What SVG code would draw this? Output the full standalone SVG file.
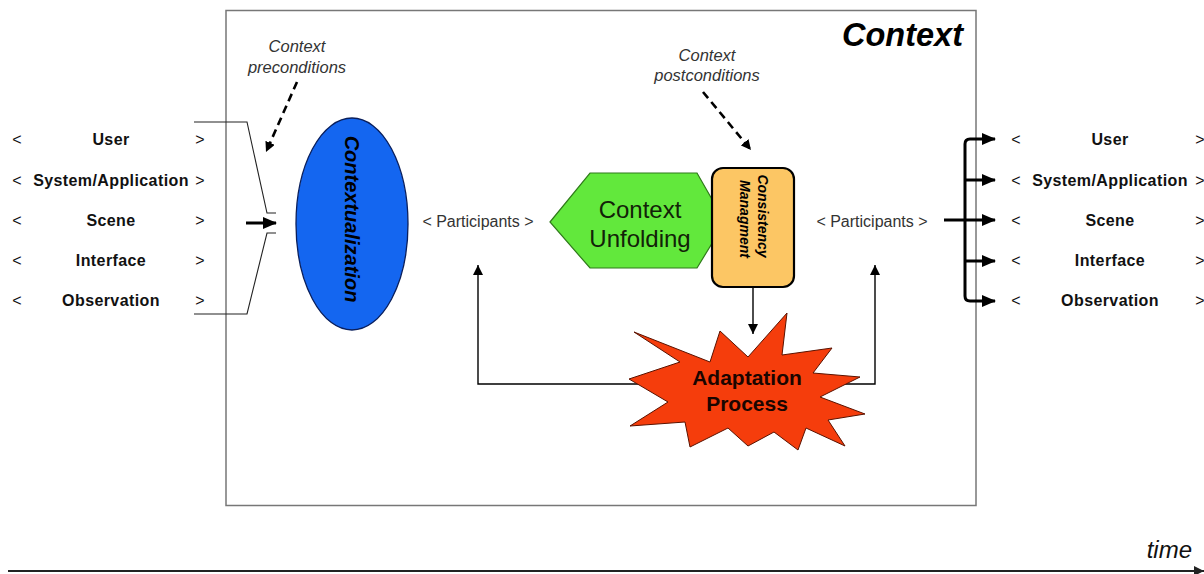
<svg xmlns="http://www.w3.org/2000/svg" width="1204" height="574" viewBox="0 0 1204 574">
  <defs>
    <marker id="headThick" markerUnits="userSpaceOnUse" markerWidth="14" markerHeight="12" refX="13" refY="6" orient="auto">
      <path d="M0,0 L14,6 L0,12 Z" fill="#000"/>
    </marker>
    <marker id="headThin" markerUnits="userSpaceOnUse" markerWidth="10" markerHeight="10" refX="10" refY="5" orient="auto">
      <path d="M0,0 L10,5 L0,10 Z" fill="#000"/>
    </marker>
    <marker id="headTime" markerUnits="userSpaceOnUse" markerWidth="10" markerHeight="10" refX="10" refY="5" orient="auto">
      <path d="M0,0 L10,5 L0,10 Z" fill="#222"/>
    </marker>
  </defs>
  <style>
    .lbl { font-family: "Liberation Sans", Arial, sans-serif; font-size: 16px; font-weight: bold; fill: #111; letter-spacing: 0.4px; }
    .br { font-family: "Liberation Sans", Arial, sans-serif; font-size: 16px; fill: #111; }
    .note { font-family: "Liberation Sans", Arial, sans-serif; font-size: 16.5px; font-style: italic; fill: #333; }
    .part { font-family: "Liberation Sans", Arial, sans-serif; font-size: 16px; fill: #333; }
    .thin { fill: none; stroke: #000; stroke-width: 1.4; }
    .thick { fill: none; stroke: #000; stroke-width: 3; }
    .dash { fill: none; stroke: #000; stroke-width: 2.6; stroke-dasharray: 8 5; }
    .bracket { fill: none; stroke: #222; stroke-width: 1.1; }
  </style>

  <rect width="1204" height="574" fill="#fff"/>

  <!-- context frame -->
  <g id="context-frame">
    <rect x="226" y="10.5" width="750" height="495" fill="none" stroke="#777" stroke-width="1.5"/>
    <text x="963" y="46" text-anchor="end" font-family="Liberation Sans, Arial, sans-serif" font-size="32.5" font-weight="bold" font-style="italic" fill="#000">Context</text>
  </g>

  <!-- incoming participant list -->
  <g id="inputs">
    <g class="br" text-anchor="middle">
      <text x="17" y="145">&lt;</text><text x="200" y="145">&gt;</text>
      <text x="17" y="186">&lt;</text><text x="200" y="186">&gt;</text>
      <text x="17" y="226">&lt;</text><text x="200" y="226">&gt;</text>
      <text x="17" y="266">&lt;</text><text x="200" y="266">&gt;</text>
      <text x="17" y="306">&lt;</text><text x="200" y="306">&gt;</text>
    </g>
    <g class="lbl" text-anchor="middle">
      <text x="111" y="145">User</text>
      <text x="111" y="186">System/Application</text>
      <text x="111" y="226">Scene</text>
      <text x="111" y="266">Interface</text>
      <text x="111" y="306">Observation</text>
    </g>
  </g>

  <!-- outgoing participant list -->
  <g id="outputs">
    <g class="br" text-anchor="middle">
      <text x="1016" y="145">&lt;</text><text x="1200" y="145">&gt;</text>
      <text x="1016" y="186">&lt;</text><text x="1200" y="186">&gt;</text>
      <text x="1016" y="226">&lt;</text><text x="1200" y="226">&gt;</text>
      <text x="1016" y="266">&lt;</text><text x="1200" y="266">&gt;</text>
      <text x="1016" y="306">&lt;</text><text x="1200" y="306">&gt;</text>
    </g>
    <g class="lbl" text-anchor="middle">
      <text x="1110" y="145">User</text>
      <text x="1110" y="186">System/Application</text>
      <text x="1110" y="226">Scene</text>
      <text x="1110" y="266">Interface</text>
      <text x="1110" y="306">Observation</text>
    </g>
  </g>

  <!-- annotations -->
  <g id="preconditions" class="note" text-anchor="middle">
    <text x="297" y="52">Context</text>
    <text x="297" y="73">preconditions</text>
  </g>
  <g id="postconditions" class="note" text-anchor="middle">
    <text x="707" y="61">Context</text>
    <text x="707" y="81">postconditions</text>
  </g>
  <g id="participants-in" class="part" text-anchor="middle">
    <text x="478" y="227">&lt; Participants &gt;</text>
  </g>
  <g id="participants-out" class="part" text-anchor="middle">
    <text x="872" y="227">&lt; Participants &gt;</text>
  </g>

  <!-- connectors -->
  <g id="connectors">
    <!-- input bracket -->
    <polyline class="bracket" points="194,122 247,122 267,213 276,213"/>
    <polyline class="bracket" points="194,314 247,314 267,233 276,233"/>
    <line class="thick" x1="246" y1="223" x2="276" y2="223" marker-end="url(#headThick)"/>
    <!-- pre/post condition hints -->
    <line class="dash" x1="297" y1="82" x2="266" y2="152" marker-end="url(#headThin)"/>
    <line class="dash" x1="703" y1="92" x2="751" y2="150" marker-end="url(#headThin)"/>
    <!-- consistency to adaptation -->
    <line class="thin" x1="753" y1="288" x2="753" y2="334" marker-end="url(#headThin)"/>
    <!-- feedback loops -->
    <polyline class="thin" points="700,384 478,384 478,265" marker-end="url(#headThin)"/>
    <polyline class="thin" points="800,384 875,384 875,265" marker-end="url(#headThin)"/>
    <!-- output fan-out -->
    <line class="thick" x1="944" y1="220" x2="995" y2="220" marker-end="url(#headThick)"/>
    <path class="thick" d="M965,220 L965,144 Q965,139 970,139 L995,139" marker-end="url(#headThick)"/>
    <path class="thick" d="M965,220 L965,296 Q965,301 970,301 L995,301" marker-end="url(#headThick)"/>
    <line class="thick" x1="965" y1="180" x2="995" y2="180" marker-end="url(#headThick)"/>
    <line class="thick" x1="965" y1="261" x2="995" y2="261" marker-end="url(#headThick)"/>
    <!-- time axis -->
    <line x1="8" y1="571" x2="1204" y2="571" stroke="#222" stroke-width="2.2" marker-end="url(#headTime)"/>
  </g>

  <!-- contextualization -->
  <g id="contextualization">
    <ellipse cx="352" cy="224" rx="56" ry="106" fill="#1466f0" stroke="#0a1f5c" stroke-width="1.3"/>
    <text transform="translate(345,219) rotate(90)" text-anchor="middle" font-family="Liberation Sans, Arial, sans-serif" font-size="20" font-weight="bold" font-style="italic" fill="#000">Contextualization</text>
  </g>

  <!-- context unfolding -->
  <g id="context-unfolding">
    <polygon points="550,222 590,173 697,173 725,222 697,268 590,268" fill="#62e83c" stroke="#2f7a1a" stroke-width="1.2"/>
    <text x="640" y="218" text-anchor="middle" font-family="Liberation Sans, Arial, sans-serif" font-size="24" fill="#122208">Context</text>
    <text x="640" y="247" text-anchor="middle" font-family="Liberation Sans, Arial, sans-serif" font-size="24" fill="#122208">Unfolding</text>
  </g>

  <!-- consistency management -->
  <g id="consistency">
    <rect x="712" y="168" width="82" height="119" rx="11" fill="#fcc664" stroke="#000" stroke-width="2.2"/>
    <g font-family="Liberation Sans, Arial, sans-serif" font-size="14" font-weight="bold" font-style="italic" fill="#000" text-anchor="middle">
      <text transform="translate(758,216) rotate(90)">Consistency</text>
      <text transform="translate(740,219) rotate(90)">Managment</text>
    </g>
  </g>

  <!-- adaptation process -->
  <g id="adaptation">
    <polygon points="787,313 782,355 832,348 813,373 860,377 820,397 865,414 828,420 845,446 806,428 798,450 774,432 748,446 728,428 690,447 685,422 630,426 668,402 629,379 680,362 634,332 710,362 720,331 748,357" fill="#f53d0c" stroke="#5a1200" stroke-width="1"/>
    <text x="747" y="385" text-anchor="middle" font-family="Liberation Sans, Arial, sans-serif" font-size="21" font-weight="bold" fill="#1a0500">Adaptation</text>
    <text x="747" y="411" text-anchor="middle" font-family="Liberation Sans, Arial, sans-serif" font-size="21" font-weight="bold" fill="#1a0500">Process</text>
  </g>

  <!-- time label -->
  <g id="time">
    <text x="1192" y="558" text-anchor="end" font-family="Liberation Sans, Arial, sans-serif" font-size="24" font-style="italic" fill="#111">time</text>
  </g>
</svg>
